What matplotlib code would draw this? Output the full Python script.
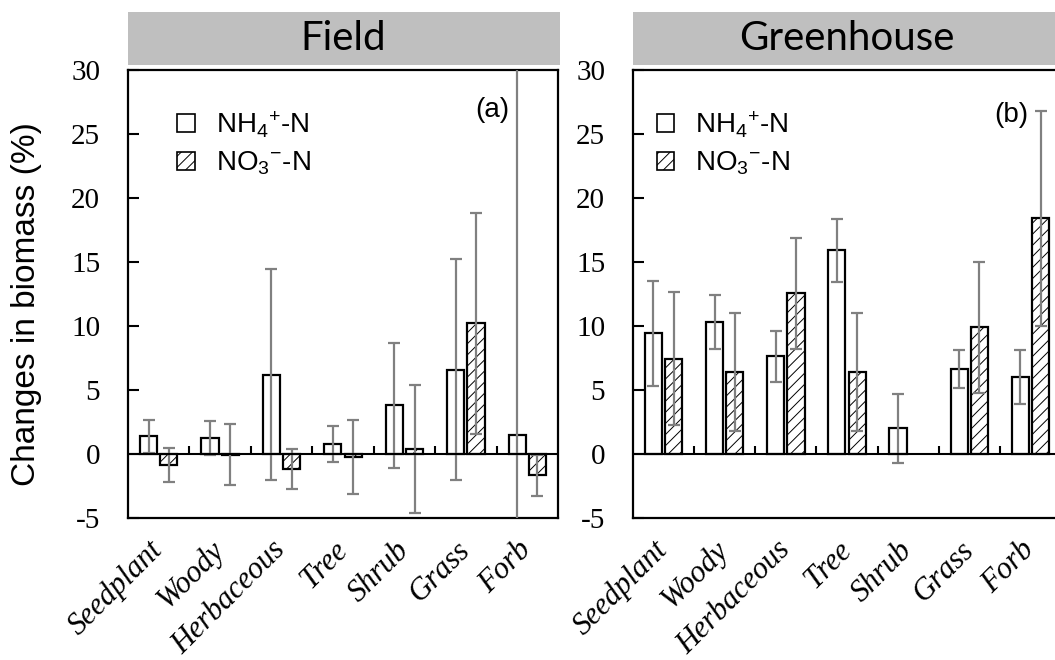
import matplotlib
matplotlib.use('Agg')
import matplotlib.pyplot as plt
from matplotlib.patches import Patch, Rectangle
import numpy as np

categories = ['Seedplant', 'Woody', 'Herbaceous', 'Tree', 'Shrub', 'Grass', 'Forb']

# Field (a)
field_nh4 = [1.37, 1.22, 6.2, 0.8, 3.8, 6.6, 1.45]
field_nh4_err = [1.3, 1.33, 8.25, 1.42, 4.86, 8.66, 35.0]
field_no3 = [-0.89, -0.05, -1.17, -0.23, 0.39, 10.2, -1.67]
field_no3_err = [1.33, 2.38, 1.57, 2.92, 5.0, 8.6, 1.6]

# Greenhouse (b)
green_nh4 = [9.45, 10.33, 7.63, 15.91, 2.0, 6.64, 6.0]
green_nh4_err = [4.1, 2.1, 2.0, 2.47, 2.7, 1.48, 2.1]
green_no3 = [7.45, 6.43, 12.54, 6.43, np.nan, 9.89, 18.43]
green_no3_err = [5.2, 4.6, 4.3, 4.6, np.nan, 5.1, 8.4]

plt.rcParams['mathtext.fontset'] = 'custom'
plt.rcParams['mathtext.rm'] = 'Liberation Sans'
plt.rcParams['mathtext.it'] = 'Liberation Sans:italic'
plt.rcParams['hatch.linewidth'] = 0.7
plt.rcParams['axes.unicode_minus'] = False

fig = plt.figure(figsize=(10.55, 6.6), dpi=100)
W, H = 1055, 660
ax1 = fig.add_axes([128 / W, 142 / H, 430 / W, 448 / H])
ax2 = fig.add_axes([633 / W, 142 / H, 428 / W, 448 / H])

x = np.arange(len(categories))
bw = 0.28
off = 0.165
errcol = '#808080'


def panel(ax, nh4, nh4e, no3, no3e, title, tag, tagx, tagy, legx):
    ax.bar(x - off, nh4, bw, facecolor='white', edgecolor='black', linewidth=1.6, zorder=2)
    ax.bar(x + off, no3, bw, facecolor='white', edgecolor='black', linewidth=1.6,
           hatch='///', zorder=2)
    ax.errorbar(x - off, nh4, yerr=nh4e, fmt='none', ecolor=errcol, elinewidth=1.6,
                capsize=4, capthick=1.6, zorder=3)
    ax.errorbar(x + off, no3, yerr=no3e, fmt='none', ecolor=errcol, elinewidth=1.6,
                capsize=4, capthick=1.6, zorder=3)
    ax.axhline(0, color='black', lw=1.5, zorder=4)
    ax.vlines(x[:-1] + 0.5, 0, 0.6, color='black', lw=1.5, zorder=4)
    ax.set_xlim(-0.5, len(categories) - 0.5)
    ax.set_ylim(-5, 30)
    ax.set_yticks(np.arange(-5, 31, 5))
    ax.tick_params(axis='y', direction='in', length=8, width=1.5, pad=20,
                   labelsize=21)
    for lab in ax.get_yticklabels():
        lab.set_family('Liberation Serif')
    ax.set_xticks(x)
    ax.set_xticklabels(categories, rotation=45, ha='right', va='center',
                       rotation_mode='anchor', family='Liberation Serif',
                       style='italic', fontsize=22)
    ax.tick_params(axis='x', length=0, pad=20)
    for s in ax.spines.values():
        s.set_linewidth(1.6)
    ax.add_patch(Rectangle((0, 1.011), 1.005, 0.118, transform=ax.transAxes,
                           facecolor='#bfbfbf', edgecolor='none', clip_on=False))
    ax.text(0.5, 1.07, title, transform=ax.transAxes, ha='center', va='center',
            family='Lato', fontsize=29)
    ax.text(tagx, tagy, tag, transform=ax.transAxes, ha='right', va='center',
            family='Liberation Sans', fontsize=20)
    handles = [Patch(facecolor='white', edgecolor='black', linewidth=1.2),
               Patch(facecolor='white', edgecolor='black', linewidth=1.2, hatch='///')]
    ax.legend(handles, ['NH$_4$$^{+}$-N', 'NO$_3$$^{-}$-N'], loc='upper left',
              bbox_to_anchor=(legx, 0.912), frameon=False,
              prop={'family': 'Liberation Sans', 'size': 20},
              handlelength=0.62, handleheight=0.62, handletextpad=0.75,
              labelspacing=0.35, borderpad=0, borderaxespad=0)


panel(ax1, field_nh4, field_nh4_err, field_no3, field_no3_err, 'Field', '(a)',
      0.888, 0.911, 0.115)
panel(ax2, green_nh4, green_nh4_err, green_no3, green_no3_err, 'Greenhouse', '(b)',
      0.923, 0.90, 0.055)

fig.text(0.025, 0.54, 'Changes in biomass (%)', rotation=90, ha='center', va='center',
         family='Liberation Sans', fontsize=24)

fig.savefig('out.png', dpi=100)
